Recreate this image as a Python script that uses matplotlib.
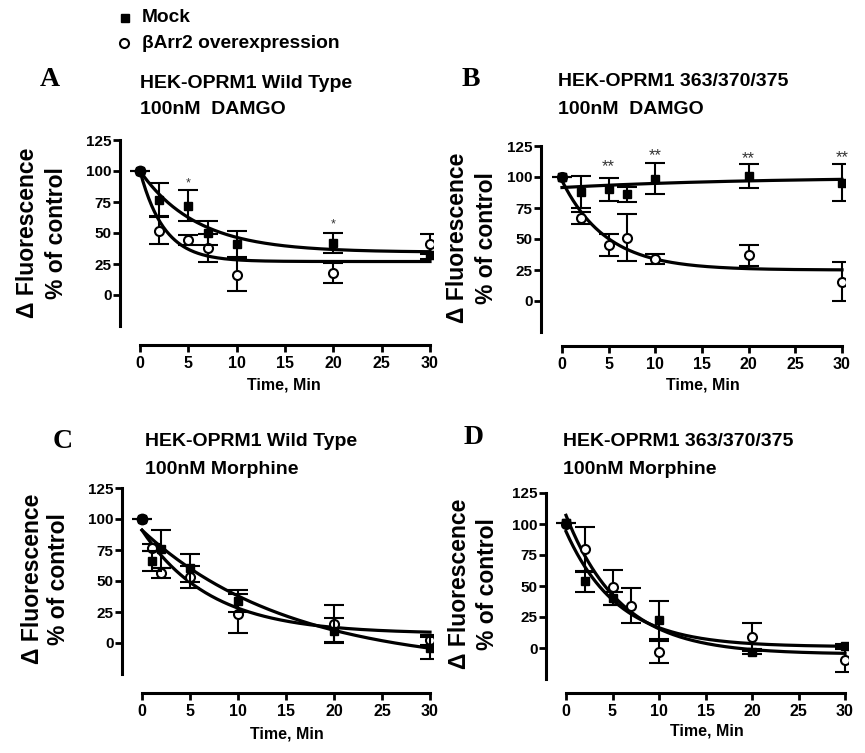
import numpy as np
import matplotlib

matplotlib.use("Agg")
import matplotlib.pyplot as plt

plt.rcParams["font.family"] = ["Liberation Sans", "DejaVu Sans"]
plt.rcParams["font.weight"] = "bold"

W, H = 865, 753

# ---- data (% of control, mean and SEM) ----
TIME_A = [0, 2, 5, 7, 10, 20, 30]
MOCK_A = [100, 77, 72, 50, 41, 42, 32]
MOCK_A_ERR = [0, 13, 12.5, 10, 10.5, 8, 3]
BARR_A = [100, 52, 44, 38, 16.5, 18, 41]
BARR_A_ERR = [0, 11, 4, 11.5, 13, 8, 8]

TIME_B = [0, 2, 5, 7, 10, 20, 30]
MOCK_B = [100, 88, 90, 86, 98.7, 100.8, 95.4]
MOCK_B_ERR = [0, 13, 9.5, 6, 12.5, 10, 15]
BARR_B = [100, 67, 45, 51, 33.6, 37, 15.6]
BARR_B_ERR = [0, 5, 9, 19, 4, 8.5, 15.5]

TIME_C = [0, 1, 2, 5, 10, 20, 30]
MOCK_C = [100, 66.4, 75.8, 60.5, 34, 10, -4]
MOCK_C_ERR = [0, 8, 15, 11.5, 9, 10, 9]
BARR_C = [100, 77, 56.5, 53, 23.7, 15.6, 2.7]
BARR_C_ERR = [0, 3, 4, 9, 15.5, 15, 4]

TIME_D = [0, 2, 5, 7, 10, 20, 30]
MOCK_D = [101, 54, 40, np.nan, 22.6, -3, 2]
MOCK_D_ERR = [0, 8.5, 5, 0, 15, 2, 1]
BARR_D = [100, 79.6, 49, 34, -3, 9, -10]
BARR_D_ERR = [0, 18, 14, 14, 9, 11.5, 9]

# one-phase decay fits: (Y0, plateau, k)
FIT_MOCK = {"A": (100, 34.5, 0.17), "B": (91.5, 100, 0.05), "C": (91, -20, 0.065), "D": (94, 1, 0.18)}
FIT_BARR = {"A": (100, 27, 0.4), "B": (97, 25, 0.21), "C": (91, 7.5, 0.14), "D": (107, -5, 0.17)}

# significance marks: (time, y, text)
STARS_A = [(5, 90, "*"), (20, 57, "*")]
STARS_B = [(5, 108, "**"), (10, 117, "**"), (20, 115, "**"), (30, 116, "**")]

PANELS = [
    dict(letter="A", title=["HEK-OPRM1 Wild Type", "100nM  DAMGO"],
         t=TIME_A, mock=MOCK_A, mock_err=MOCK_A_ERR, barr=BARR_A, barr_err=BARR_A_ERR,
         stars=STARS_A, star_size=9, zero_dot=True,
         yaxis_x=120, x0=140, x30=430, y125=140, y0=295, xaxis_y=345,
         letter_xy=(50, 80), title_xy=(140, 83), ylab_x=(28, 57), ylab_y=233, xlab_xy=(284, 385)),
    dict(letter="B", title=["HEK-OPRM1 363/370/375", "100nM  DAMGO"],
         t=TIME_B, mock=MOCK_B, mock_err=MOCK_B_ERR, barr=BARR_B, barr_err=BARR_B_ERR,
         stars=STARS_B, star_size=12, zero_dot=False,
         yaxis_x=541, x0=562, x30=842, y125=146, y0=301, xaxis_y=346,
         letter_xy=(471, 80), title_xy=(558, 82), ylab_x=(458, 486), ylab_y=238, xlab_xy=(703, 385)),
    dict(letter="C", title=["HEK-OPRM1 Wild Type", "100nM Morphine"],
         t=TIME_C, mock=MOCK_C, mock_err=MOCK_C_ERR, barr=BARR_C, barr_err=BARR_C_ERR,
         stars=[], star_size=9, zero_dot=True,
         yaxis_x=122, x0=142, x30=430, y125=488, y0=643, xaxis_y=693,
         letter_xy=(63, 442), title_xy=(145, 442), ylab_x=(33, 59), ylab_y=579, xlab_xy=(287, 734)),
    dict(letter="D", title=["HEK-OPRM1 363/370/375", "100nM Morphine"],
         t=TIME_D, mock=MOCK_D, mock_err=MOCK_D_ERR, barr=BARR_D, barr_err=BARR_D_ERR,
         stars=[], star_size=9, zero_dot=False,
         yaxis_x=546, x0=566, x30=845, y125=493, y0=648, xaxis_y=693,
         letter_xy=(474, 437), title_xy=(563, 442), ylab_x=(459, 487), ylab_y=584, xlab_xy=(707, 731)),
]


def fx(x):
    return x / W


def fy(y):
    return 1 - y / H


def decay(t, params):
    y0, plateau, k = params
    return plateau + (y0 - plateau) * np.exp(-k * t)


fig = plt.figure(figsize=(W / 100, H / 100), dpi=100, facecolor="white")

# legend at top
fig.text(fx(142), fy(18), "Mock", fontsize=13.8, va="center", ha="left")
fig.text(fx(142), fy(43), "\u03b2Arr2 overexpression", fontsize=13.8, va="center", ha="left")
fig.lines.append(plt.Line2D([fx(125)], [fy(18)], marker="s", color="black", markersize=6,
                            transform=fig.transFigure))
fig.lines.append(plt.Line2D([fx(124)], [fy(43)], marker="o", color="black", markerfacecolor="white",
                            markersize=6.5, markeredgewidth=1.5, transform=fig.transFigure))

for p in PANELS:
    px_per_min = (p["x30"] - p["x0"]) / 30.0
    px_per_unit = (p["y0"] - p["y125"]) / 125.0
    left_px, right_px = p["yaxis_x"], p["x30"] + 3
    top_px, bot_px = p["y125"] - 3, p["xaxis_y"]
    ax = fig.add_axes([fx(left_px), fy(bot_px), (right_px - left_px) / W, (bot_px - top_px) / H])
    ax.set_xlim((left_px - p["x0"]) / px_per_min, (right_px - p["x0"]) / px_per_min)
    ax.set_ylim((p["y0"] - bot_px) / px_per_unit, (p["y0"] - top_px) / px_per_unit)
    ax.patch.set_alpha(0)

    for s in ("top", "right"):
        ax.spines[s].set_visible(False)
    ax.spines["left"].set_linewidth(2.2)
    ax.spines["bottom"].set_linewidth(2.2)
    ax.spines["left"].set_bounds(-25, 125)
    ax.spines["bottom"].set_bounds(0, 30)
    ax.set_xticks(range(0, 31, 5))
    ax.set_yticks([0, 25, 50, 75, 100, 125])
    ax.tick_params(axis="both", direction="out", width=2, length=5, pad=2)
    ax.tick_params(axis="y", labelsize=11, pad=1)
    ax.tick_params(axis="x", labelsize=11.5, pad=3)
    for lab in ax.get_xticklabels() + ax.get_yticklabels():
        lab.set_fontweight("bold")

    tt = np.linspace(0, 30, 300)
    ax.plot(tt, decay(tt, FIT_MOCK[p["letter"]]), color="black", lw=2.3, zorder=2)
    ax.plot(tt, decay(tt, FIT_BARR[p["letter"]]), color="black", lw=2.3, zorder=2)

    t = np.array(p["t"], dtype=float)
    barr = np.array(p["barr"], dtype=float)
    mock = np.array(p["mock"], dtype=float)
    ax.errorbar(t[1:], barr[1:], yerr=p["barr_err"][1:], fmt="o", color="black", mfc="white",
                mec="black", mew=1.5, ms=6.5, elinewidth=1.5, capsize=7, capthick=1.5, zorder=3)
    ax.errorbar(t, mock, yerr=p["mock_err"], fmt="s", color="black", ms=5.8,
                elinewidth=1.5, capsize=7, capthick=1.5, zorder=4)
    if p["zero_dot"]:
        ax.plot(t[:1], barr[:1], "o", color="black", ms=7.5, zorder=5)
    else:
        ax.plot(t[:1], barr[:1], "o", color="black", mfc="white", mew=1.5, ms=6.5, zorder=3)
        ax.plot(t[:1], mock[:1], "s", color="black", ms=5.8, zorder=5)

    for sx, sy, txt in p["stars"]:
        ax.text(sx, sy, txt, ha="center", va="center", fontsize=p["star_size"],
                fontweight="normal", color="#333333")

    fig.text(fx(p["letter_xy"][0]), fy(p["letter_xy"][1]), p["letter"], family="Liberation Serif",
             fontsize=20, fontweight="bold", ha="center", va="center")
    fig.text(fx(p["title_xy"][0]), fy(p["title_xy"][1]), p["title"][0], fontsize=14, ha="left", va="center")
    fig.text(fx(p["title_xy"][0]), fy(p["title_xy"][1] + 27), p["title"][1], fontsize=14, ha="left", va="center")
    fig.text(fx(p["ylab_x"][0]), fy(p["ylab_y"]), "\u0394 Fluorescence", rotation=90, fontsize=16.5,
             ha="center", va="center")
    fig.text(fx(p["ylab_x"][1]), fy(p["ylab_y"]), "% of control", rotation=90, fontsize=16.5,
             ha="center", va="center")
    fig.text(fx(p["xlab_xy"][0]), fy(p["xlab_xy"][1]), "Time, Min", fontsize=11.5, ha="center", va="center")

fig.savefig("out.png", dpi=100, facecolor="white")
